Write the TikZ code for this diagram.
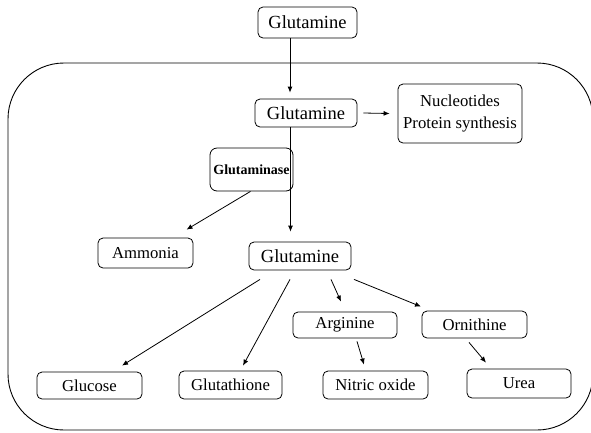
\documentclass[tikz,border=0pt]{standalone}
\usepackage{fontspec}
\setmainfont{Liberation Serif}
\usetikzlibrary{calc,arrows.meta}

\begin{document}
\begin{tikzpicture}[
  x=1pt, y=-1pt,
  pathway/.style={
    draw=black,
    rounded corners=5pt,
    line width=0.8pt,
    inner sep=0pt,
    align=center,
    font=\fontsize{16.7}{22}\selectfont
  },
  metabolite/.style={
    pathway,
    font=\fontsize{18.5}{22}\selectfont
  },
  enzyme/.style={
    pathway,
    rounded corners=7pt,
    font=\fontsize{14}{18}\selectfont\bfseries
  },
  flow/.style={
    line width=0.8pt,
    -{Latex[length=6pt,width=5pt]}
  }
]
\useasboundingbox (0,0) rectangle (591,432);

% cell
\draw[line width=0.9pt, rounded corners=56pt] (8,63) rectangle (593,430);

% boxes
\node[metabolite, minimum width=99pt, minimum height=31pt] (gln0) at (307.5,22.5) {Glutamine};
\node[metabolite, minimum width=102pt, minimum height=28pt] (gln1) at (306,113) {Glutamine};
\node[pathway, minimum width=124pt, minimum height=59pt] (nucl) at (460,113.5) {Nucleotides\\Protein synthesis};
\node[enzyme, minimum width=83pt, minimum height=43pt] (gase) at (251.5,169.5) {Glutaminase};
\node[pathway, minimum width=95pt, minimum height=30pt] (amm) at (145.5,253) {Ammonia};
\node[metabolite, minimum width=102pt, minimum height=28pt] (gln2) at (300,256) {Glutamine};

\node[pathway, minimum width=104pt, minimum height=26pt] (arg) at (345,325) {Arginine};
\node[pathway, minimum width=105pt, minimum height=27pt] (orn) at (474.5,324.5) {Ornithine};

\node[pathway, minimum width=105pt, minimum height=27pt] (glc) at (89.5,385.5) {Glucose};
\node[pathway, minimum width=103pt, minimum height=28pt] (gsh) at (230.5,385) {Glutathione};
\node[pathway, minimum width=105pt, minimum height=28pt] (no) at (375.5,385) {Nitric oxide};
\node[pathway, minimum width=104pt, minimum height=29pt] (urea) at (519,383.5) {Urea};

% arrows
\draw[flow] ($(gln0.south)+(-17.5,0)$) -- ($(gln1.north)+(-16,-6)$);
\draw[flow] ($(gln1.east)+(6,0)$) -- ($(nucl.west)+(-8,0)$);
\draw[flow] ($(gln1.south)+(-15.5,0)$) -- ($(gln2.north)+(-9.5,-10)$);
\draw[flow] ($(gase.south)+(-1,0)$) -- ($(amm.north)+(41,-8)$);

\draw[flow] ($(gln2.south)+(-40,9)$) -- ($(glc.north)+(32.5,-6)$);
\draw[flow] ($(gln2.south)+(-10,9)$) -- ($(gsh.north)+(12.5,-5)$);
\draw[flow] ($(gln2.south)+(31,9)$) -- ($(arg.north)+(-4,-10)$);
\draw[flow] ($(gln2.south)+(54,9)$) -- ($(orn.north)+(-53.5,-4)$);

\draw[flow] ($(arg.south)+(12,3)$) -- ($(no.north)+(-11.5,-6)$);
\draw[flow] ($(orn.south)+(-5.5,4)$) -- ($(urea.north)+(-33,-6)$);
\end{tikzpicture}
\end{document}
